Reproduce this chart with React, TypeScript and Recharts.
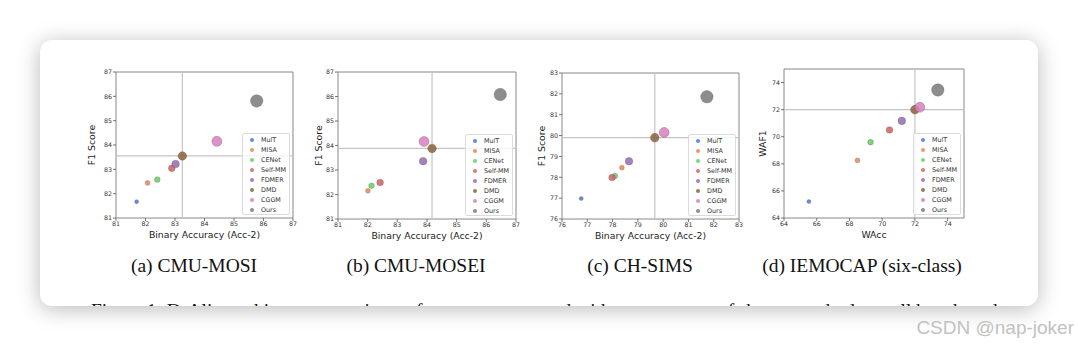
import React from "react";
import { ScatterChart, Scatter, XAxis, YAxis, ReferenceLine, ReferenceArea } from "recharts";

// methods shared by all four panels
const methods = ["MulT", "MISA", "CENet", "Self-MM", "FDMER", "DMD", "CGGM", "Ours"];
const colors = ["#4878d0", "#ee854a", "#6acc64", "#d65f5f", "#956cb4", "#8c613c", "#dc7ec0", "#797979"];
const radii = [2, 2.4, 2.8, 3.3, 3.8, 4.3, 5, 6.2];

// (a) CMU-MOSI
const mosiAcc = [81.7, 82.07, 82.4, 82.89, 83.02, 83.25, 84.42, 85.77];
const mosiF1 = [81.67, 82.44, 82.58, 83.04, 83.22, 83.55, 84.15, 85.81];
// (b) CMU-MOSEI (MulT not visible in range)
const moseiAcc = [null, 82.01, 82.13, 82.42, 83.87, 84.17, 83.9, 86.47];
const moseiF1 = [null, 82.15, 82.36, 82.49, 83.36, 83.88, 84.16, 86.08];
// (c) CH-SIMS
const simsAcc = [76.76, 78.37, 78.09, 77.98, 78.65, 79.67, 80.04, 81.73];
const simsF1 = [76.98, 78.46, 78.06, 77.99, 78.77, 79.9, 80.15, 81.86];
// (d) IEMOCAP six-class
const iemoAcc = [65.52, 68.49, 69.29, 70.45, 71.2, 72.0, 72.3, 73.4];
const iemoF1 = [65.21, 68.25, 69.6, 70.5, 71.17, 72.0, 72.17, 73.45];

const ticks81 = [81, 82, 83, 84, 85, 86, 87];
const ticks76 = [76, 77, 78, 79, 80, 81, 82, 83];
const ticks64 = [64, 66, 68, 70, 72, 74];

const captions = ["(a) CMU-MOSI", "(b) CMU-MOSEI", "(c) CH-SIMS", "(d) IEMOCAP (six-class)"];

const FONT = "'DejaVu Sans', sans-serif";
const SERIF = "'Liberation Serif', 'Times New Roman', serif";
const CARD_X = 40;
const CARD_Y = 40;
const YW = 32, MT = 4, MR = 4, XH = 26;

type Rect = { x: number; y: number; w: number; h: number };

interface PanelProps {
  plot: Rect;
  xs: (number | null)[];
  ys: (number | null)[];
  xDomain: [number, number];
  yDomain: [number, number];
  xTicks: number[];
  yTicks: number[];
  xLabel: string;
  yLabel: string;
  yLabelOff: number;
}

function LegendBox({ left, top }: { left: number; top: number }) {
  return (
    <div style={{ position: "absolute", left, top, width: 48, height: 82, boxSizing: "border-box", border: "1px solid #dcdcdc", borderRadius: 2, background: "rgba(255,255,255,0.8)", fontFamily: FONT, fontSize: 6.4, color: "#333", lineHeight: "10px" }}>
      {methods.map((m, i) => (
        <div key={m} style={{ height: 10, display: "flex", alignItems: "center", marginTop: i === 0 ? 1 : 0 }}>
          <span style={{ display: "inline-block", width: 4, height: 4, borderRadius: 2, background: colors[i], opacity: 0.85, marginLeft: 7, marginRight: 7 }} />
          <span>{m}</span>
        </div>
      ))}
    </div>
  );
}

function Panel({ plot, xs, ys, xDomain, yDomain, xTicks, yTicks, xLabel, yLabel, yLabelOff }: PanelProps) {
  const width = YW + plot.w + MR;
  const height = MT + plot.h + XH;
  const tick = { fontSize: 6.3, fill: "#333", fontFamily: FONT };
  return (
    <div style={{ position: "absolute", left: plot.x - CARD_X - YW, top: plot.y - CARD_Y - MT, width, height }}>
      <ScatterChart width={width} height={height} margin={{ top: MT, right: MR, left: 0, bottom: 0 }}>
        <XAxis
          type="number"
          dataKey="x"
          domain={xDomain}
          ticks={xTicks}
          interval={0}
          allowDataOverflow
          height={XH}
          axisLine={false}
          tickSize={3}
          tickMargin={1}
          tickLine={{ stroke: "#555", strokeWidth: 0.8 }}
          tick={tick}
          label={(p: any) => {
            const vb = p.viewBox ?? p;
            return (
              <text x={vb.x + vb.width / 2} y={vb.y + 16} textAnchor="middle" dominantBaseline="central" fontFamily={FONT} fontSize={9.3} fill="#222">
                {xLabel}
              </text>
            );
          }}
        />
        <YAxis
          type="number"
          dataKey="y"
          domain={yDomain}
          ticks={yTicks}
          interval={0}
          allowDataOverflow
          width={YW}
          axisLine={false}
          tickSize={3}
          tickMargin={1}
          tickLine={{ stroke: "#555", strokeWidth: 0.8 }}
          tick={tick}
          label={(p: any) => {
            const vb = p.viewBox ?? p;
            const cx = vb.x + vb.width - yLabelOff;
            const cy = vb.y + vb.height / 2;
            return (
              <text x={cx} y={cy} transform={`rotate(-90, ${cx}, ${cy})`} textAnchor="middle" dominantBaseline="central" fontFamily={FONT} fontSize={9.3} fill="#222">
                {yLabel}
              </text>
            );
          }}
        />
        <ReferenceArea x1={xDomain[0]} x2={xDomain[1]} y1={yDomain[0]} y2={yDomain[1]} fill="none" stroke="#888" strokeWidth={1} />
        <ReferenceLine x={xs[5] as number} stroke="#c4c4c4" strokeWidth={1.2} />
        <ReferenceLine y={ys[5] as number} stroke="#c4c4c4" strokeWidth={1.2} />
        {methods.map((m, i) => {
          const pts = xs[i] == null ? [] : [{ x: xs[i], y: ys[i] }];
          return (
            <Scatter
              key={m}
              name={m}
              data={pts}
              isAnimationActive={false}
              shape={(s: any) => (
                <circle cx={s.cx} cy={s.cy} r={radii[i]} fill={colors[i]} fillOpacity={0.85} stroke="#555" strokeOpacity={0.6} strokeWidth={0.5} />
              )}
            />
          );
        })}
      </ScatterChart>
      <LegendBox left={YW + plot.w - 3 - 48} top={MT + plot.h - 3 - 82} />
    </div>
  );
}

const captionCenters = [194, 416, 640, 862];

export default function App() {
  return (
    <div style={{ position: "absolute", left: 0, top: 0, width: 1078, height: 347, background: "#fff", overflow: "hidden" }}>
      <div style={{ position: "absolute", left: CARD_X, top: CARD_Y, width: 998, height: 266, borderRadius: 12, background: "#fff", boxShadow: "0 3px 22px rgba(0,0,0,0.28)", overflow: "hidden" }}>
        <Panel plot={{ x: 116, y: 72, w: 177, h: 146 }} xs={mosiAcc} ys={mosiF1} xDomain={[81, 87]} yDomain={[81, 87]} xTicks={ticks81} yTicks={ticks81} xLabel="Binary Accuracy (Acc-2)" yLabel="F1 Score" yLabelOff={25} />
        <Panel plot={{ x: 338, y: 72, w: 178, h: 147 }} xs={moseiAcc} ys={moseiF1} xDomain={[81, 87]} yDomain={[81, 87]} xTicks={ticks81} yTicks={ticks81} xLabel="Binary Accuracy (Acc-2)" yLabel="F1 Score" yLabelOff={20} />
        <Panel plot={{ x: 562, y: 73, w: 177, h: 146 }} xs={simsAcc} ys={simsF1} xDomain={[76, 83]} yDomain={[76, 83]} xTicks={ticks76} yTicks={ticks76} xLabel="Binary Accuracy (Acc-2)" yLabel="F1 Score" yLabelOff={21} />
        <Panel plot={{ x: 784, y: 69, w: 180, h: 149 }} xs={iemoAcc} ys={iemoF1} xDomain={[64, 75]} yDomain={[64, 75]} xTicks={ticks64} yTicks={ticks64} xLabel="WAcc" yLabel="WAF1" yLabelOff={22} />
        {captions.map((c, i) => (
          <div key={c} style={{ position: "absolute", left: captionCenters[i] - CARD_X - 150, top: 255 - CARD_Y, width: 300, textAlign: "center", fontFamily: SERIF, fontSize: 19.5, color: "#111", whiteSpace: "nowrap" }}>
            {c}
          </div>
        ))}
        <div style={{ position: "absolute", left: 91 - CARD_X, top: 300 - CARD_Y, width: 920, height: 6, overflow: "hidden" }}>
          <div style={{ fontFamily: SERIF, fontSize: 19.5, color: "#111", whiteSpace: "nowrap" }}>
            Figure 1: DrAlign achieves a superior performance compared with current state-of-the-art methods on all benchmarks.
          </div>
        </div>
      </div>
      <div style={{ position: "absolute", right: 4, top: 317, fontFamily: "'Liberation Sans', Arial, sans-serif", fontSize: 19, color: "#c2c2c2", whiteSpace: "nowrap" }}>
        CSDN @nap-joker
      </div>
    </div>
  );
}
